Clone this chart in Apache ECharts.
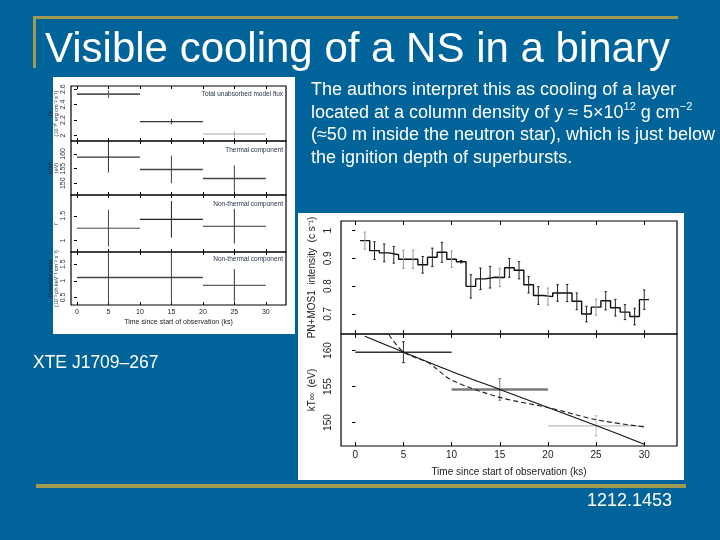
<!DOCTYPE html>
<html><head><meta charset="utf-8">
<script src="https://cdn.jsdelivr.net/npm/echarts@6/dist/echarts.min.js"></script>
<style>html,body{margin:0;padding:0;background:#006399}#c{width:720px;height:540px}</style>
</head><body><div id="c"></div>
<script>
// ---------- Left figure: three 10-ks bins ----------
const binCentres = [5, 15, 25];
const binHalfWidths = [5, 5, 5];
const fluxValues = [2.535, 2.18, 2.02];
const fluxErrors = [0.05, 0.035, 0.04];
const kTLeftValues = [158.9, 154.7, 151.6];
const kTLeftErrors = [5.2, 4.7, 4.5];
const gammaValues = [1.25, 1.43, 1.29];
const gammaErrors = [0.37, 0.37, 0.35];
const normValues = [1.10, 1.10, 0.865];
const normErrors = [0.78, 0.78, 0.49];

// ---------- Right figure: 1-ks light curve ----------
const rateTimes = [1,2,3,4,5,6,7,8,9,10,11,12,13,14,15,16,17,18,19,20,21,22,23,24,25,26,27,28,29,30];
const rateValues = [0.964,0.928,0.920,0.913,0.897,0.897,0.877,0.904,0.922,0.897,0.888,0.799,0.826,0.832,0.831,
                    0.866,0.857,0.805,0.766,0.762,0.775,0.775,0.745,0.699,0.724,0.747,0.722,0.706,0.690,0.751];
const rateErrors = [0.031,0.032,0.032,0.030,0.033,0.033,0.030,0.033,0.036,0.030,0.004,0.042,0.039,0.039,0.033,
                    0.034,0.031,0.030,0.032,0.031,0.030,0.031,0.030,0.028,0.029,0.033,0.030,0.027,0.030,0.035];
// kT of the three 10-ks spectra and cooling models
const kTRightValues = [159.77, 154.6, 149.55];
const kTRightErrors = [1.45, 1.5, 1.4];
const modelSolidT = [1, 5, 10, 15, 20, 25, 30];
const modelSolidKT = [162.0, 159.8, 157.1, 154.6, 152.1, 149.6, 147.0];
const modelDashT = [3.5, 5, 7.6, 10, 15, 20, 25, 30];
const modelDashKT = [162.2, 159.8, 158.3, 155.9, 153.5, 152.1, 150.4, 149.4];

// ---------- Tick labels ----------
const timeTicks = [0, 5, 10, 15, 20, 25, 30];
const fluxTicks = [2, 2.2, 2.4, 2.6];
const kTLeftTicks = [150, 155, 160];
const gammaTicks = [1, 1.5];
const normTicks = [0.5, 1, 1.5];
const rateTicks = [0.7, 0.8, 0.9, 1];
const kTRightTicks = [150, 155, 160];

const chart = echarts.init(document.getElementById('c'), null, {renderer: 'canvas'});

const BLUE = '#006399', GOLD = '#a19b52', INK = '#1e2a44';

function errBar(colors, hLine, capPx) {
  return function (params, api) {
    const x = api.value(0), y = api.value(1), hw = api.value(2), e = api.value(3);
    const i = params.dataIndex;
    const c = colors[i % colors.length];
    const ch = [];
    if (hw > 0) {
      const pL = api.coord([x - hw, y]), pR = api.coord([x + hw, y]);
      ch.push({type: 'line', shape: {x1: pL[0], y1: pL[1], x2: pR[0], y2: pR[1]},
               style: {stroke: c, lineWidth: hLine[i % hLine.length]}});
    }
    const pT = api.coord([x, y + e]), pB = api.coord([x, y - e]);
    ch.push({type: 'line', shape: {x1: pT[0], y1: pT[1], x2: pB[0], y2: pB[1]}, style: {stroke: c, lineWidth: 1}});
    if (capPx) {
      ch.push({type: 'line', shape: {x1: pT[0] - capPx, y1: pT[1], x2: pT[0] + capPx, y2: pT[1]}, style: {stroke: c, lineWidth: 1}});
      ch.push({type: 'line', shape: {x1: pB[0] - capPx, y1: pB[1], x2: pB[0] + capPx, y2: pB[1]}, style: {stroke: c, lineWidth: 1}});
    }
    return {type: 'group', children: ch};
  };
}

const grids = [
  {left: 71, top: 86, width: 215, height: 55},
  {left: 71, top: 141, width: 215, height: 54},
  {left: 71, top: 195, width: 215, height: 57},
  {left: 71, top: 252, width: 215, height: 53},
  {left: 341, top: 221, width: 336, height: 113},
  {left: 341, top: 334, width: 336, height: 112}
].map(g => Object.assign({show: true, borderColor: '#000', borderWidth: 1.2, backgroundColor: 'transparent', containLabel: false}, g));

const xAxis = [], yAxis = [];
const leftX = {min: -0.95, max: 33.2}, rightX = {min: -1.48, max: 33.4};
const yDefs = [
  {min: 1.93, max: 2.64, ticks: fluxTicks, name: 'Fx\n(10⁻¹⁰ erg cm⁻² s⁻¹)'},
  {min: 146, max: 164.4, ticks: kTLeftTicks, name: 'kTeff\n(eV)'},
  {min: 0.77, max: 1.92, ticks: gammaTicks, name: 'Γ'},
  {min: 0.27, max: 1.87, ticks: normTicks, name: 'Powerlaw norm\n(10⁻³ ph keV⁻¹ cm⁻² s⁻¹)'},
  {min: 0.627, max: 1.035, ticks: rateTicks, name: 'PN+MOS1  intensity  (c s⁻¹)'},
  {min: 146.75, max: 162.3, ticks: kTRightTicks, name: 'kT∞  (eV)'}
];
grids.forEach((g, gi) => {
  const isLeft = gi < 4;
  const xr = isLeft ? leftX : rightX;
  const bottomPanel = gi === 3 || gi === 5;
  const fs = isLeft ? 7 : 10;
  xAxis.push({
    type: 'value', gridIndex: gi, min: xr.min, max: xr.max, position: 'bottom',
    axisLine: {show: false}, splitLine: {show: false},
    axisTick: {show: true, inside: true, length: isLeft ? 3 : 4, customValues: timeTicks, lineStyle: {color: '#000'}},
    axisLabel: {show: bottomPanel, customValues: timeTicks, fontSize: fs, color: '#222', margin: 4, fontFamily: 'Liberation Sans'},
    name: bottomPanel ? 'Time since start of observation (ks)' : '',
    nameLocation: 'middle', nameGap: isLeft ? 14 : 21,
    nameTextStyle: {fontSize: isLeft ? 7 : 10, color: '#222', fontFamily: 'Liberation Sans'}
  });
  xAxis.push({
    type: 'value', gridIndex: gi, min: xr.min, max: xr.max, position: 'top',
    axisLine: {show: false}, splitLine: {show: false},
    axisTick: {show: true, inside: true, length: isLeft ? 3 : 4, customValues: timeTicks, lineStyle: {color: '#000'}},
    axisLabel: {show: false}
  });
  const d = yDefs[gi];
  yAxis.push({
    type: 'value', gridIndex: gi, min: d.min, max: d.max, position: 'left',
    axisLine: {show: false}, splitLine: {show: false},
    axisTick: {show: true, inside: false, length: 3, customValues: d.ticks, lineStyle: {color: '#000'}},
    axisLabel: {customValues: d.ticks, rotate: 90, fontSize: fs, color: isLeft ? INK : '#222', margin: isLeft ? 4 : 8, fontFamily: 'Liberation Sans'},
    name: d.name, nameLocation: 'middle', nameRotate: 90, nameGap: isLeft ? 12 : 23,
    nameTextStyle: {fontSize: isLeft ? 5.5 : 10, lineHeight: isLeft ? 6 : 11, color: isLeft ? INK : '#222', fontFamily: 'Liberation Sans'}
  });
  yAxis.push({
    type: 'value', gridIndex: gi, min: d.min, max: d.max, position: 'right',
    axisLine: {show: false}, splitLine: {show: false},
    axisTick: {show: true, inside: true, length: 3, customValues: d.ticks, lineStyle: {color: '#000'}},
    axisLabel: {show: false}
  });
});

function binData(vals, errs) {
  return binCentres.map((c, i) => [c, vals[i], binHalfWidths[i], errs[i]]);
}
const series = [];
const leftSets = [
  [fluxValues, fluxErrors, ['#555', '#333', '#aaa'], [1.6, 1.4, 1]],
  [kTLeftValues, kTLeftErrors, ['#333', '#444', '#444'], [1.2, 1.6, 1.6]],
  [gammaValues, gammaErrors, ['#444', '#222', '#333'], [1, 1.2, 1.2]],
  [normValues, normErrors, ['#444', '#444', '#333'], [1.4, 1.4, 1]]
];
leftSets.forEach((s, gi) => {
  series.push({
    type: 'custom', xAxisIndex: 2 * gi, yAxisIndex: 2 * gi, clip: true,
    renderItem: errBar(s[2], s[3], 0), data: binData(s[0], s[1]), silent: true
  });
});

// right top: step light curve
const stepData = rateTimes.map((t, i) => [t - 0.5, rateValues[i]]);
stepData.push([rateTimes[rateTimes.length - 1] + 0.5, rateValues[rateValues.length - 1]]);
series.push({
  type: 'line', xAxisIndex: 8, yAxisIndex: 8, step: 'end', data: stepData, symbol: 'none',
  lineStyle: {color: '#111', width: 1.4}, silent: true, z: 3
});
const rateColors = rateTimes.map(t => (t === 1 || t === 6 || t % 5 === 0 && t !== 30) ? '#999' : '#222');
series.push({
  type: 'custom', xAxisIndex: 8, yAxisIndex: 8, clip: true,
  renderItem: errBar(rateColors, [1], 1.2),
  data: rateTimes.map((t, i) => [t, rateValues[i], 0, rateErrors[i]]), silent: true, z: 4
});
// right bottom
series.push({
  type: 'custom', xAxisIndex: 10, yAxisIndex: 10, clip: true,
  renderItem: errBar(['#333', '#7a7a7a', '#bdbdbd'], [1.5, 2.6, 1.3], 1.5),
  data: binData(kTRightValues, kTRightErrors), silent: true
});
series.push({
  type: 'line', xAxisIndex: 10, yAxisIndex: 10, data: modelSolidT.map((t, i) => [t, modelSolidKT[i]]),
  symbol: 'none', lineStyle: {color: '#111', width: 1.1}, silent: true, smooth: 0.3
});
series.push({
  type: 'line', xAxisIndex: 10, yAxisIndex: 10, data: modelDashT.map((t, i) => [t, modelDashKT[i]]),
  symbol: 'none', lineStyle: {color: '#222', width: 1.1, type: [5, 3]}, silent: true, smooth: 0.3
});

const smallLbl = (x, y, txt) => ({type: 'text', x: x, y: y, z: 50,
  style: {text: txt, fill: INK, font: '6.5px "Liberation Sans"', align: 'right', verticalAlign: 'middle'}});

const graphic = [
  // white panels
  {type: 'rect', shape: {x: 53, y: 77, width: 242, height: 257}, style: {fill: '#fff'}, z: -10},
  {type: 'rect', shape: {x: 298, y: 213, width: 386, height: 267}, style: {fill: '#fff'}, z: -10},
  // gold rules
  {type: 'rect', shape: {x: 33, y: 16, width: 645, height: 3}, style: {fill: GOLD}, z: 10},
  {type: 'rect', shape: {x: 33, y: 16, width: 3, height: 52}, style: {fill: GOLD}, z: 10},
  {type: 'rect', shape: {x: 36, y: 484, width: 650, height: 4}, style: {fill: GOLD}, z: 10},
  // title
  {type: 'text', x: 45, y: 50, z: 20,
   style: {text: 'Visible cooling of a NS in a binary', fill: '#fff', font: '42px "Liberation Sans"', verticalAlign: 'middle'}},
  // paragraph
  {type: 'text', x: 311, y: 79, z: 20,
   style: {
     text: 'The authors interpret this as cooling of a layer\n' +
           'located at a column density of y ≈ 5×10{sup|12} g cm{sup|−2}\n' +
           '(≈50 m inside the neutron star), which is just below\n' +
           'the ignition depth of superbursts.',
     fill: '#fff', font: '18px "Liberation Sans"', lineHeight: 22.5, verticalAlign: 'top',
     rich: {sup: {fontSize: 11, fill: '#fff', verticalAlign: 'top', lineHeight: 22.5, padding: [0, 0, 0, 0]}}
   }},
  {type: 'text', x: 33, y: 363, z: 20,
   style: {text: 'XTE J1709–267', fill: '#fff', font: '17.5px "Liberation Sans"', verticalAlign: 'middle'}},
  {type: 'text', x: 672, y: 501, z: 20,
   style: {text: '1212.1453', fill: '#fff', font: '18px "Liberation Sans"', align: 'right', verticalAlign: 'middle'}},
  smallLbl(283, 94, 'Total unabsorbed model flux'),
  smallLbl(283, 150, 'Thermal component'),
  smallLbl(283, 204, 'Non-thermal component'),
  smallLbl(283, 259, 'Non-thermal component')
];

chart.setOption({
  backgroundColor: BLUE,
  animation: false,
  grid: grids,
  xAxis: xAxis,
  yAxis: yAxis,
  series: series,
  graphic: graphic
});
</script></body></html>
